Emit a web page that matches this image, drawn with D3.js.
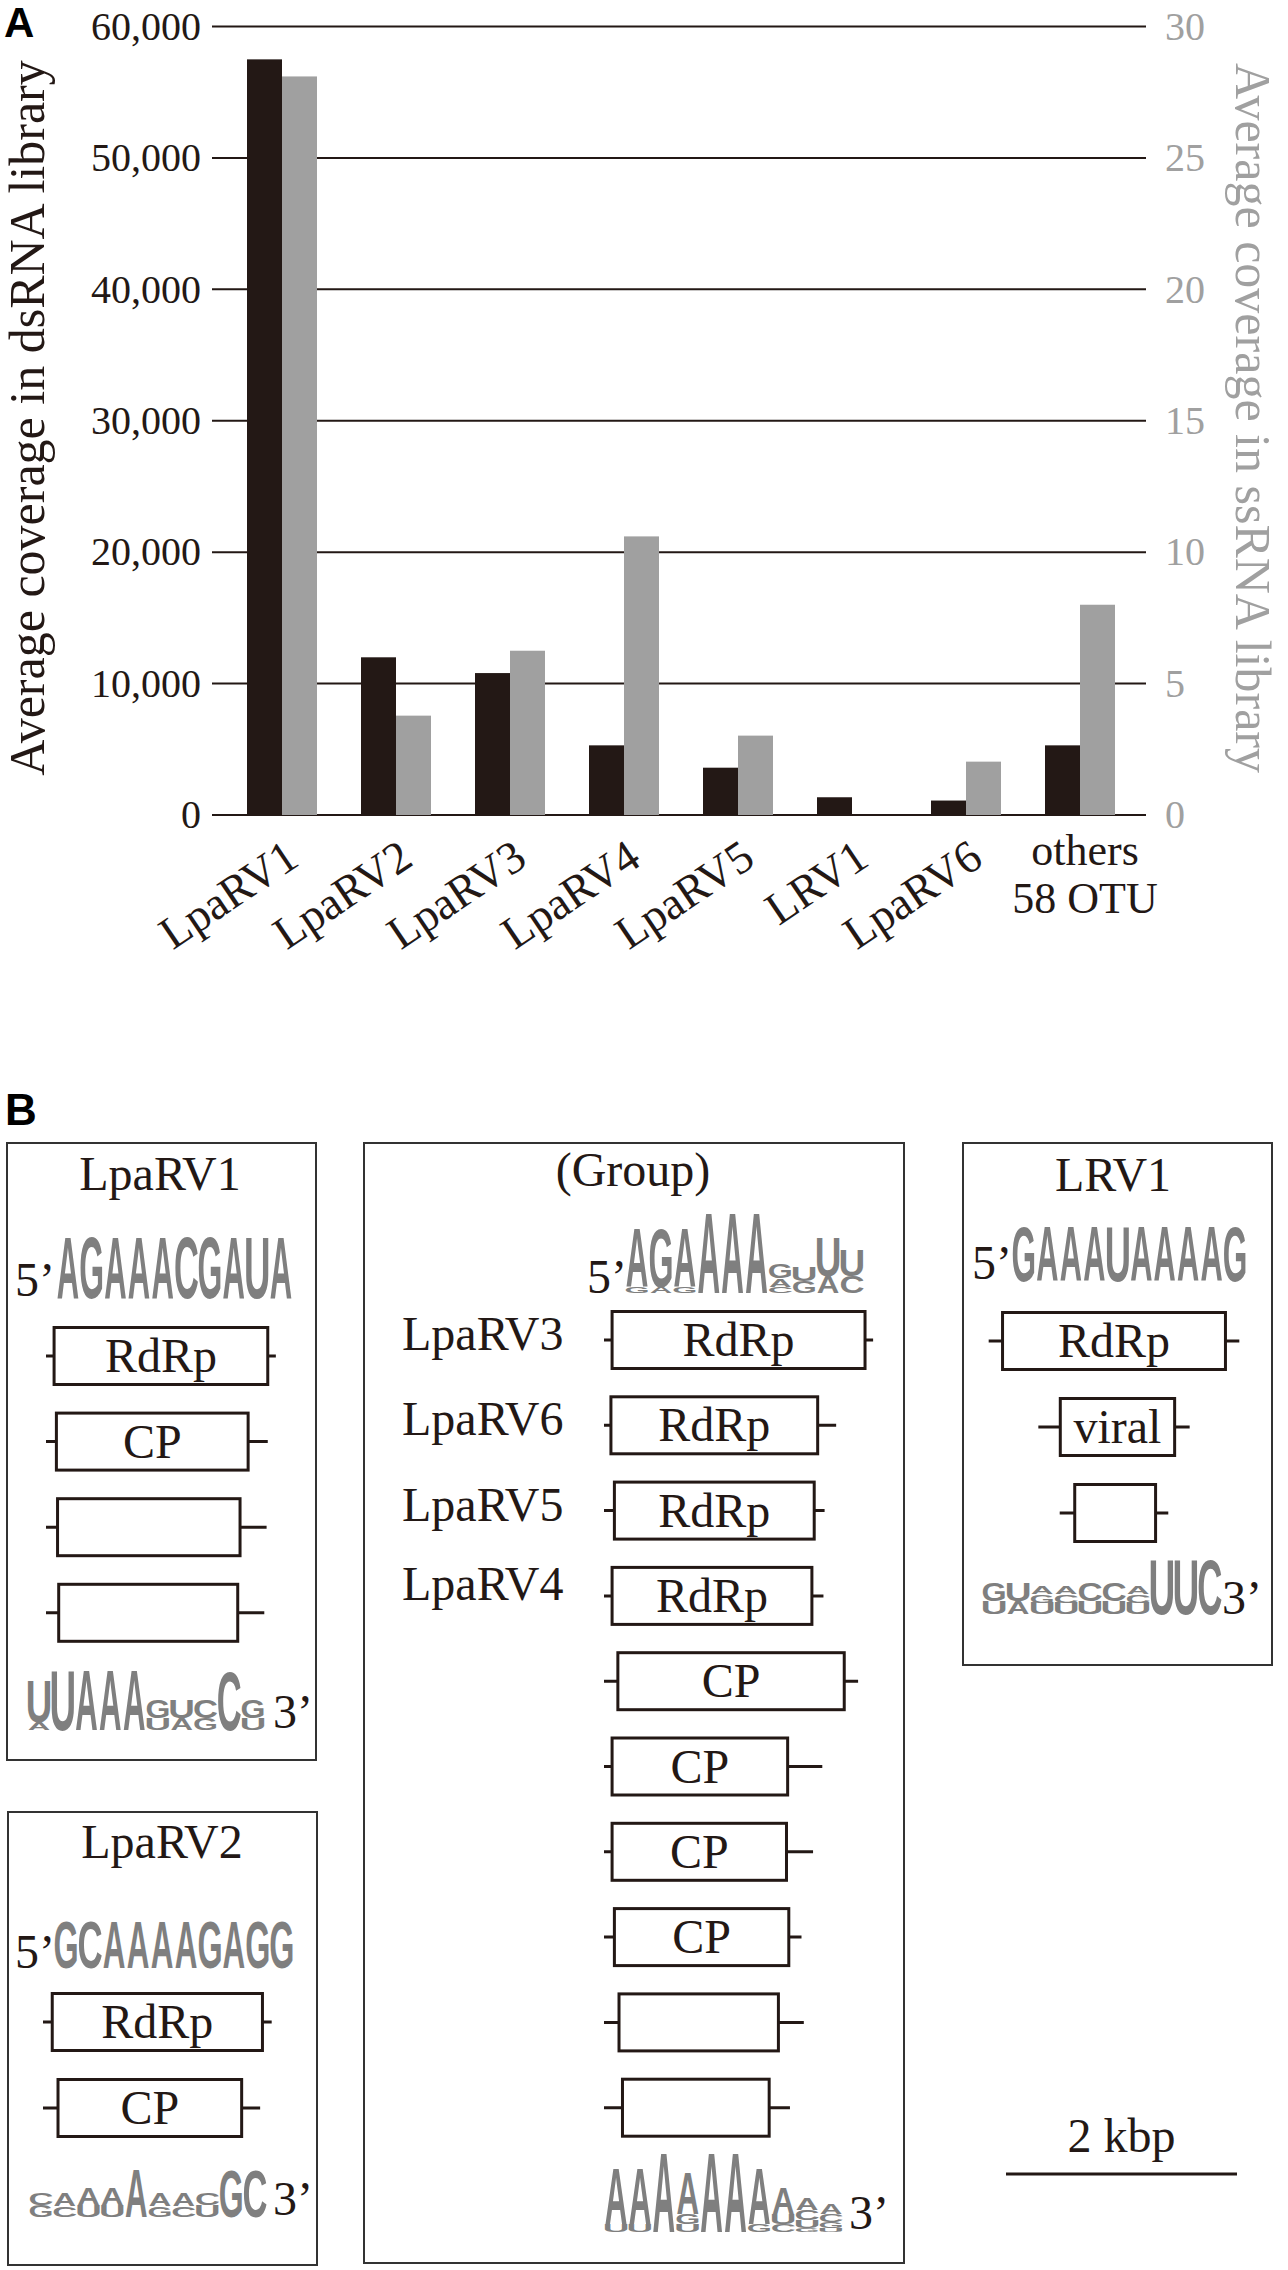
<!DOCTYPE html>
<html><head><meta charset="utf-8">
<script src="https://cdn.jsdelivr.net/npm/d3@7"></script>
<style>
body{margin:0;background:#fff}
svg{display:block}
text{font-family:"Liberation Serif","Times New Roman",serif}
</style>
</head><body>
<svg id="fig" width="1288" height="2270"></svg>
<script>
// ---------------- Panel A data ----------------
const categories = ["LpaRV1","LpaRV2","LpaRV3","LpaRV4","LpaRV5","LRV1","LpaRV6","others"];
const dsRNA = [57500, 12000, 10800, 5300, 3600, 1350, 1100, 5300];
const ssRNA = [28.1, 3.78, 6.25, 10.6, 3.02, 0, 2.03, 8.0];
const leftTicks = [0, 10000, 20000, 30000, 40000, 50000, 60000];
const rightTicks = [0, 5, 10, 15, 20, 25, 30];
const othersLabel = ["others", "58 OTU"];

// ---------------- Panel B data ----------------
// [ORF label, 5'UTR kbp, ORF kbp, 3'UTR kbp]
const lpaRV1Segments = [["RdRp",0.07,1.85,0.07],["CP",0.09,1.66,0.17],["",0.10,1.58,0.23],["",0.11,1.55,0.23]];
const lpaRV2Segments = [["RdRp",0.08,1.82,0.08],["CP",0.13,1.59,0.16]];
const groupSegments = [["RdRp",0.07,2.19,0.07],["RdRp",0.06,1.79,0.16],["RdRp",0.09,1.73,0.09],["RdRp",0.07,1.73,0.10],
  ["CP",0.12,1.96,0.12],["CP",0.07,1.52,0.30],["CP",0.07,1.51,0.23],["CP",0.09,1.51,0.11],["",0.13,1.38,0.22],["",0.16,1.27,0.18]];
const groupNames = ["LpaRV3","LpaRV6","LpaRV5","LpaRV4"];
const lrv1Segments = [["RdRp",0.12,1.93,0.12],["viral",0.19,0.99,0.13],["",0.13,0.70,0.11]];
const scaleBarKbp = 2;

// sequence logos: columns, letters listed top to bottom with height in bits
const logoLpaRV1_5 = [[["A",2]],[["G",2]],[["A",2]],[["A",2]],[["A",2]],[["C",2]],[["G",2]],[["A",2]],[["U",2]],[["A",2]]];
const logoLpaRV1_3 = [[["U",1.38],["A",0.26]],[["U",2]],[["A",2]],[["A",2]],[["A",2]],[["G",0.62],["U",0.39]],[["U",0.62],["A",0.39]],[["C",0.62],["G",0.39]],[["C",1.95]],[["G",0.62],["U",0.39]]];
const logoLpaRV2_5 = [[["G",2]],[["C",2]],[["A",2]],[["A",2]],[["A",2]],[["A",2]],[["G",2]],[["A",2]],[["G",2]],[["G",2]]];
const logoLpaRV2_3 = [[["C",0.5],["G",0.5]],[["A",0.55],["C",0.45]],[["A",0.7],["U",0.5]],[["A",0.7],["U",0.5]],[["A",2]],[["A",0.55],["G",0.45]],[["A",0.55],["C",0.45]],[["C",0.5],["U",0.5]],[["G",1.95]],[["C",1.95]]];
const logoGroup_5 = [[["A",1.45],["G",0.15]],[["G",1.45],["A",0.15]],[["A",1.45],["G",0.15]],[["A",2]],[["A",2]],[["A",2]],[["G",0.35],["A",0.2],["C",0.15]],[["U",0.35],["G",0.3]],[["U",0.95],["A",0.4]],[["U",0.65],["C",0.4]]];
const logoGroup_3 = [[["A",1.4],["U",0.2]],[["A",1.4],["U",0.2]],[["A",2]],[["A",1.05],["G",0.25],["U",0.2]],[["A",2]],[["A",2]],[["A",1.4],["G",0.2]],[["A",0.65],["U",0.25],["C",0.2]],[["A",0.3],["C",0.25],["U",0.2],["G",0.1]],[["A",0.25],["C",0.2],["G",0.15],["U",0.1]]];
const logoLRV1_5 = [[["G",2]],[["A",2]],[["A",2]],[["A",2]],[["U",2]],[["A",2]],[["A",2]],[["A",2]],[["A",2]],[["G",2]]];
const logoLRV1_3 = [[["G",0.68],["U",0.48]],[["U",0.68],["A",0.48]],[["A",0.3],["G",0.3],["U",0.4]],[["A",0.3],["C",0.3],["U",0.4]],[["C",0.68],["U",0.48]],[["C",0.68],["U",0.48]],[["A",0.3],["C",0.3],["U",0.4]],[["U",2]],[["U",2]],[["C",2]]];

// ---------------- drawing ----------------
const INK = "#231815", GREY = "#a0a0a0", LOGO = "#7f7f7f";
const svg = d3.select("#fig");

// Panel A
const yL = d3.scaleLinear().domain([0, 60000]).range([815, 26.5]);
const yR = d3.scaleLinear().domain([0, 30]).range([815, 26.5]);
const x0 = d3.scaleBand().domain(categories).range([225, 1137]).paddingInner(0.386).paddingOuter(0.193);
const x1 = d3.scaleBand().domain(["ds","ss"]).range([0, x0.bandwidth()]);
const gridX = [212, 1146];

const gA = svg.append("g");
gA.append("text").attr("x", 4).attr("y", 37).text("A")
  .style("font-family", "'Liberation Sans',Arial,sans-serif").style("font-weight","bold").style("font-size","42px").attr("fill", "#000");

gA.selectAll("line.grid").data(leftTicks).join("line").attr("class","grid")
  .attr("x1", gridX[0]).attr("x2", gridX[1]).attr("y1", d => yL(d)).attr("y2", d => yL(d))
  .attr("stroke", INK).attr("stroke-width", 2);

const groups = gA.selectAll("g.cat").data(categories).join("g").attr("class","cat")
  .attr("transform", d => `translate(${x0(d)},0)`);
groups.append("rect").attr("x", x1("ds")).attr("width", x1.bandwidth())
  .attr("y", (d,i) => yL(dsRNA[i])).attr("height", (d,i) => yL(0) - yL(dsRNA[i])).attr("fill", INK);
groups.append("rect").attr("x", x1("ss")).attr("width", x1.bandwidth())
  .attr("y", (d,i) => yR(ssRNA[i])).attr("height", (d,i) => yR(0) - yR(ssRNA[i])).attr("fill", GREY);

const axL = gA.append("g").attr("transform", `translate(${gridX[0]},0)`)
  .call(d3.axisLeft(yL).tickValues(leftTicks).tickSize(0).tickPadding(11).tickFormat(d3.format(",")));
axL.select(".domain").remove();
axL.selectAll("text").style("font-family","'Liberation Serif',serif").style("font-size","40px").attr("fill", INK);

const axR = gA.append("g").attr("transform", `translate(${gridX[1]},0)`)
  .call(d3.axisRight(yR).tickValues(rightTicks).tickSize(0).tickPadding(19).tickFormat(d3.format("d")));
axR.select(".domain").remove();
axR.selectAll("text").style("font-family","'Liberation Serif',serif").style("font-size","40px").attr("fill", GREY);

gA.append("text").attr("transform", "translate(44,418) rotate(-90)").attr("text-anchor","middle")
  .style("font-size","50px").attr("fill", INK).text("Average coverage in dsRNA library");
gA.append("text").attr("transform", "translate(1236,418) rotate(90)").attr("text-anchor","middle")
  .style("font-size","50px").attr("fill", GREY).text("Average coverage in ssRNA library");

categories.forEach((c, i) => {
  const cx = x0(c) + x0.bandwidth() / 2;
  if (c === "others") {
    othersLabel.forEach((t, k) => {
      gA.append("text").attr("x", cx + 5).attr("y", 865 + k * 48).attr("text-anchor","middle")
        .style("font-size","44px").attr("fill", INK).text(t);
    });
  } else {
    gA.append("text").attr("transform", `translate(${cx + 19},864) rotate(-34)`).attr("text-anchor","end")
      .style("font-size","46px").attr("fill", INK).text(c);
  }
});

// Panel B
const gB = svg.append("g");
gB.append("text").attr("x", 5).attr("y", 1125).text("B")
  .style("font-family", "'Liberation Sans',Arial,sans-serif").style("font-weight","bold").style("font-size","44px").attr("fill", "#000");

const kb = d3.scaleLinear().domain([0, 1]).range([0, 115.5]);
const BOX_H = 57;

function panelFrame(x, y, w, h) {
  gB.append("rect").attr("x", x).attr("y", y).attr("width", w).attr("height", h)
    .attr("fill", "none").attr("stroke", "#333").attr("stroke-width", 2);
}
function label(x, y, t, anchor, size, fill) {
  return gB.append("text").attr("x", x).attr("y", y).attr("text-anchor", anchor || "start")
    .style("font-size", (size || 48) + "px").attr("fill", fill || INK).text(t);
}
function drawSegment(seg, startX, cy) {
  const [name, u5, orf, u3] = seg;
  const bx = startX + kb(u5), bw = kb(orf), ex = bx + bw + kb(u3);
  gB.append("line").attr("x1", startX).attr("x2", ex).attr("y1", cy).attr("y2", cy)
    .attr("stroke", INK).attr("stroke-width", 3);
  gB.append("rect").attr("x", bx).attr("y", cy - BOX_H / 2).attr("width", bw).attr("height", BOX_H)
    .attr("fill", "#fff").attr("stroke", INK).attr("stroke-width", 3);
  if (name) label(bx + bw / 2, cy + 16, name, "middle", 48);
}
const inkW = {A: 71, C: 64, G: 69, U: 60};
function glyph(L, x, y, w, h) {
  gB.append("text").attr("text-anchor", "middle")
    .attr("transform", `translate(${x + w / 2},${y + h}) scale(${w / inkW[L]},${h / 71.6})`)
    .style("font-family", "'Liberation Sans',Arial,sans-serif").style("font-weight", "bold")
    .style("font-size", "100px").attr("fill", LOGO).text(L);
}
function drawLogo(cols, xa, xb, baseY, twoBitPx) {
  const xs = d3.scaleBand().domain(d3.range(cols.length)).range([xa, xb]).paddingInner(0.07);
  const hs = d3.scaleLinear().domain([0, 2]).range([0, twoBitPx]);
  cols.forEach((col, i) => {
    let y = baseY;
    for (let j = col.length - 1; j >= 0; j--) {
      const h = hs(col[j][1]);
      glyph(col[j][0], xs(i), y - h, xs.bandwidth(), h);
      y -= h;
    }
  });
}

// LpaRV1
panelFrame(7, 1143, 309, 617);
label(160, 1190, "LpaRV1", "middle", 48);
label(15, 1296, "5\u2019", "start", 48);
drawLogo(logoLpaRV1_5, 57, 292, 1298, 62);
lpaRV1Segments.forEach((s, i) => drawSegment(s, 46, 1356 + i * 85.6));
drawLogo(logoLpaRV1_3, 28, 264, 1730, 61);
label(273, 1728, "3\u2019", "start", 48);

// LpaRV2
panelFrame(8, 1812, 309, 453);
label(162, 1858, "LpaRV2", "middle", 48);
label(15, 1968, "5\u2019", "start", 48);
drawLogo(logoLpaRV2_5, 55, 293, 1968, 48);
lpaRV2Segments.forEach((s, i) => drawSegment(s, 43, 2022 + i * 86));
drawLogo(logoLpaRV2_3, 30, 266, 2217, 49);
label(273, 2215, "3\u2019", "start", 48);

// Group
panelFrame(364, 1143, 540, 1120);
label(633, 1186, "(Group)", "middle", 48);
label(587, 1293, "5\u2019", "start", 48);
drawLogo(logoGroup_5, 626, 863, 1293, 83);
groupSegments.forEach((s, i) => drawSegment(s, 604, 1340 + i * 85.3));
groupNames.forEach((n, i) => label(402, 1350 + i * 85.3 - (i === 3 ? 6 : 0), n, "start", 48));
drawLogo(logoGroup_3, 605, 842, 2232, 81);
label(849, 2229, "3\u2019", "start", 48);

// LRV1
panelFrame(963, 1143, 309, 522);
label(1113, 1191, "LRV1", "middle", 48);
label(972, 1279, "5\u2019", "start", 48);
drawLogo(logoLRV1_5, 1013, 1246, 1281, 56);
lrv1Segments.forEach((s, i) => {
  const total = kb(s[1] + s[2] + s[3]);
  drawSegment(s, 1114 - total / 2, 1341 + i * 86);
});
drawLogo(logoLRV1_3, 983, 1221, 1614, 56);
label(1222, 1614, "3\u2019", "start", 48);

// scale bar
gB.append("line").attr("x1", 1006).attr("x2", 1006 + kb(scaleBarKbp)).attr("y1", 2174).attr("y2", 2174)
  .attr("stroke", INK).attr("stroke-width", 3);
label(1006 + kb(scaleBarKbp) / 2, 2152, scaleBarKbp + " kbp", "middle", 48);
</script>
</body></html>
